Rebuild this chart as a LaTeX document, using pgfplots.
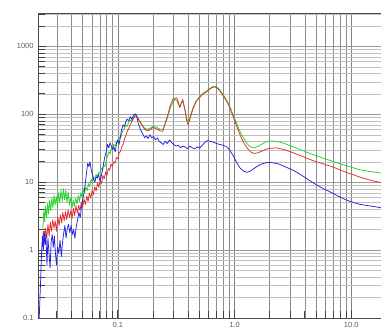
\documentclass[border=0pt]{standalone}
\usepackage{pgfplots}
\pgfplotsset{compat=1.18}
\usepackage{fontspec}
\setmainfont{Liberation Sans}
\definecolor{cgreen}{RGB}{40,210,40}
\definecolor{cred}{RGB}{225,45,45}
\definecolor{cblue}{RGB}{35,35,225}
\definecolor{txt}{RGB}{90,90,90}
\begin{document}
\begin{tikzpicture}
\begin{axis}[
  scale only axis, width=343bp, height=305bp,
  xmode=log, ymode=log,
  xmin=0.0207, xmax=18, ymin=0.1, ymax=3100,
  xtick={0.1,1,10}, xticklabels={0.1,1.0,10.0},
  ytick={0.1,1,10,100,1000}, yticklabels={0.1,1,10,100,1000},
  minor xtick={0.03,0.04,0.05,0.06,0.07,0.08,0.09,0.2,0.3,0.4,0.5,0.6,0.7,0.8,0.9,2,3,4,5,6,7,8,9},
  minor ytick={0.2,0.3,0.4,0.5,0.6,0.7,0.8,0.9,2,3,4,5,6,7,8,9,20,30,40,50,60,70,80,90,200,300,400,500,600,700,800,900,2000,3000},
  grid=both,
  major x grid style={black!50, line width=0.45bp},
  minor x grid style={black!45, line width=0.4bp},
  major y grid style={black!40, line width=0.45bp},
  minor y grid style={black!25, line width=0.4bp},
  tick align=inside,
  major tick length=8bp, minor tick length=7bp,
  every tick/.style={black!75, line width=0.7bp},
  xtick pos=bottom, ytick pos=left,
  axis line style={black!70, line width=0.8bp},
  tick label style={font=\fontsize{7.5}{8}\selectfont, text=txt},
  /pgf/number format/assume math mode=true,
  xticklabel style={yshift=-1bp},
  yticklabel style={xshift=-1bp},
  clip=true,
  every axis plot/.append style={line width=0.75bp, line join=round},
]
\addplot[cgreen] coordinates {
(0.0228,2.0)(0.0232,3.8)(0.0236,2.6)(0.0240,4.4)(0.0245,3.0)(0.0250,4.8)(0.0255,3.4)(0.0260,5.4)(0.0266,3.8)(0.0272,5.8)
(0.0278,4.2)(0.0284,6.4)(0.0290,4.6)(0.0297,6.2)(0.0304,4.4)(0.0311,7.0)(0.0318,5.0)(0.0326,7.6)(0.0334,5.2)(0.0342,8.0)
(0.0350,5.5)(0.0358,7.6)(0.0367,5.0)(0.0376,7.2)(0.0385,4.6)(0.0395,6.0)(0.0405,4.2)(0.0415,5.4)(0.0425,4.4)(0.0436,5.8)
(0.0447,4.8)(0.0458,6.4)(0.0470,5.2)(0.0482,7.0)(0.0494,6.0)(0.0506,8.0)(0.0519,7.0)(0.0532,8.5)(0.0546,7.5)(0.0560,9.5)
(0.0575,8.5)(0.0590,11)(0.0605,10)(0.0620,12)(0.0636,11)(0.0652,13)(0.0668,12)(0.0685,14)(0.0702,13.5)(0.0720,16)
(0.0738,15)(0.0756,18)(0.0775,17)(0.0795,21)(0.0815,24)(0.0836,28)(0.0857,26)(0.0880,32)(0.0902,30)(0.0925,36)
(0.0950,34)(0.0975,40)(0.1000,38)(0.1025,46)(0.105,44)(0.108,52)(0.111,58)(0.114,62)(0.117,70)(0.120,66)
(0.124,76)(0.128,82)(0.132,78)(0.136,90)(0.140,98)(0.145,94)(0.150,86)(0.160,72)(0.170,62)(0.180,60)
(0.190,63)(0.200,67)(0.210,65)(0.220,63)(0.230,60)(0.243,60)(0.255,72)(0.268,92)(0.280,120)(0.295,150)
(0.310,165)(0.320,160)(0.330,140)(0.340,130)(0.350,150)(0.360,155)(0.375,118)(0.390,85)(0.400,78)(0.415,90)
(0.430,110)(0.445,130)(0.470,158)(0.500,180)(0.540,205)(0.580,222)(0.615,240)(0.650,255)(0.680,258)(0.710,250)
(0.740,234)(0.780,206)(0.830,176)(0.870,154)(0.910,131)(0.960,104)(1.01,84)(1.07,66)(1.13,53)(1.20,44)
(1.28,37)(1.37,33)(1.47,32)(1.58,33.5)(1.70,36)(1.85,39)(2.0,40.5)(2.3,40)(2.7,37)(3.2,33)
(3.7,30)(4.3,27)(5.0,24.5)(5.8,22.5)(6.8,20.5)(7.8,19)(9.0,17.5)(10.5,16.2)(12,15.2)(14,14.5)
(16,14)(18,13.6)
};
\addplot[cred] coordinates {
(0.0225,1.2)(0.0230,1.9)(0.0235,1.3)(0.0240,2.1)(0.0246,1.5)(0.0252,2.4)(0.0258,1.6)(0.0264,2.6)(0.0270,1.9)(0.0277,2.8)
(0.0284,2.1)(0.0291,2.7)(0.0298,1.9)(0.0306,3.1)(0.0314,2.3)(0.0322,3.3)(0.0330,2.5)(0.0338,3.6)(0.0347,2.7)(0.0356,3.7)
(0.0365,2.8)(0.0375,3.9)(0.0385,3.0)(0.0395,3.8)(0.0405,2.9)(0.0416,4.1)(0.0427,3.2)(0.0438,4.5)(0.0450,3.5)(0.0462,4.6)
(0.0474,3.8)(0.0487,5.1)(0.0500,4.3)(0.0514,5.6)(0.0528,4.7)(0.0542,6.3)(0.0556,5.2)(0.0571,6.9)(0.0586,5.8)(0.0602,7.6)
(0.0618,6.6)(0.0635,8.6)(0.0652,7.4)(0.0670,9.7)(0.0688,8.4)(0.0706,10.8)(0.0725,9.6)(0.0745,12.5)(0.0765,11.2)(0.0786,14)
(0.0807,12.5)(0.0829,16)(0.0851,15)(0.0874,18.5)(0.0898,17)(0.0922,20)(0.0947,19)(0.0972,23)(0.0998,22)(0.1025,27)
(0.105,28)(0.108,33)(0.111,36)(0.114,43)(0.117,48)(0.120,55)(0.124,62)(0.128,70)(0.132,78)(0.136,86)
(0.140,92)(0.145,90)(0.150,85)(0.160,70)(0.170,60)(0.180,57)(0.190,60)(0.200,64)(0.210,62)(0.220,60)
(0.230,57)(0.243,56)(0.255,75)(0.268,98)(0.280,130)(0.295,165)(0.310,172)(0.320,176)(0.330,150)(0.340,125)
(0.350,145)(0.360,165)(0.375,120)(0.390,80)(0.400,70)(0.415,85)(0.430,105)(0.445,125)(0.470,155)(0.500,175)
(0.540,200)(0.580,215)(0.615,235)(0.650,250)(0.680,252)(0.710,244)(0.740,228)(0.780,200)(0.830,170)(0.870,148)
(0.910,125)(0.960,98)(1.01,78)(1.07,60)(1.13,47)(1.20,38)(1.28,32)(1.37,28)(1.47,26.5)(1.58,27)
(1.70,28.5)(1.85,30.5)(2.0,31.5)(2.3,32)(2.7,30)(3.2,27)(3.7,24.5)(4.3,22)(5.0,20)(5.8,18.5)
(6.8,17)(7.8,15.5)(9.0,14)(10.5,12.8)(12,11.8)(14,10.9)(16,10.3)(18,9.9)
};
\addplot[cblue] coordinates {
(0.0212,0.1)(0.0218,0.35)(0.0222,0.9)(0.0226,1.6)(0.0230,1.0)(0.0234,1.9)(0.0238,1.2)(0.0242,1.7)(0.0247,0.6)(0.0252,1.5)
(0.0257,0.9)(0.0263,0.55)(0.0268,1.3)(0.0274,1.7)(0.0280,1.1)(0.0286,1.6)(0.0292,0.9)(0.0298,0.6)(0.0305,1.1)(0.0312,0.9)
(0.0320,1.4)(0.0328,0.8)(0.0336,1.3)(0.0344,1.8)(0.0352,2.3)(0.0360,1.5)(0.0369,2.1)(0.0378,2.4)(0.0388,1.8)(0.0398,2.3)
(0.0408,1.7)(0.0418,2.0)(0.0429,1.5)(0.0440,2.2)(0.0452,2.8)(0.0464,3.6)(0.0476,3.0)(0.0488,4.2)(0.0500,5.5)(0.0513,7.0)
(0.0526,9.5)(0.0540,14)(0.0552,19)(0.0565,17)(0.0578,20)(0.0592,15)(0.0606,13)(0.0620,11)(0.0636,10)(0.0652,12)
(0.0668,11.5)(0.0685,13)(0.0702,10.5)(0.0720,12)(0.0738,15)(0.0756,19)(0.0775,24)(0.0795,28)(0.0815,36)(0.0836,32)
(0.0857,38)(0.0880,34)(0.0902,30)(0.0925,33)(0.0950,28)(0.0975,38)(0.1000,42)(0.1025,36)(0.105,46)(0.108,60)
(0.111,70)(0.114,66)(0.117,78)(0.120,85)(0.124,80)(0.128,92)(0.132,84)(0.136,96)(0.140,102)(0.145,96)
(0.150,72)(0.155,62)(0.160,55)(0.165,50)(0.170,45)(0.176,48)(0.182,44)(0.188,50)(0.195,45)(0.202,47)
(0.210,42)(0.218,45)(0.226,40)(0.235,38)(0.245,36)(0.255,40)(0.265,37)(0.278,42)(0.290,38)(0.302,36)
(0.315,34)(0.330,35)(0.345,32)(0.360,34)(0.378,33)(0.395,31)(0.415,34)(0.435,32)(0.455,31)(0.480,33)
(0.505,32)(0.530,35)(0.560,39)(0.590,41)(0.62,40)(0.68,38)(0.74,36)(0.80,35)(0.86,33)(0.92,29)
(0.98,24)(1.05,19)(1.12,16)(1.20,14.5)(1.28,14)(1.36,14.5)(1.46,15.8)(1.58,17.3)(1.72,18.6)(1.90,19.5)
(2.10,19.4)(2.40,18.5)(2.80,16.5)(3.3,14.5)(3.8,12.5)(4.4,10.6)(5.0,9.2)(5.8,8.0)(6.8,7.0)(7.8,6.2)
(9.0,5.5)(10.5,5.0)(12,4.7)(14,4.5)(16,4.35)(18,4.2)
};
\coordinate (bl) at (rel axis cs:0,0);
\coordinate (tr) at (rel axis cs:1,1);
\node[anchor=south west, font=\fontsize{6.5}{7}\selectfont, text=txt, inner sep=1bp] at (rel axis cs:0.006,1) {cm/sec/(pd sec)};
\node[anchor=south, font=\fontsize{6.5}{7}\selectfont, text=txt, inner sep=1bp] at (rel axis cs:0.708,1) {0.3 Hz band smoothing};
\end{axis}
\pgfresetboundingbox
\path ([xshift=-38bp,yshift=-16bp]bl) rectangle ([yshift=13bp]tr);
\end{tikzpicture}
\end{document}
